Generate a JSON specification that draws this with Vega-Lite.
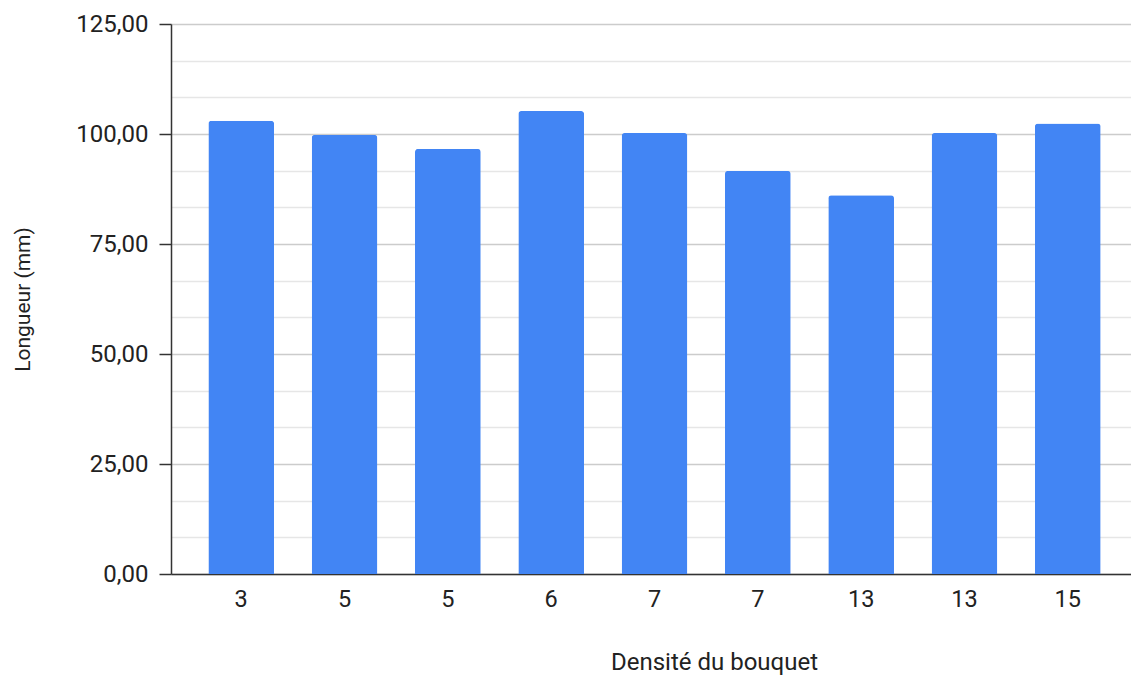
{
  "$schema": "https://vega.github.io/schema/vega-lite/v6.json",
  "autosize": "none",
  "width": 960,
  "height": 550,
  "padding": {"left": 171, "top": 24, "right": 0, "bottom": 102},
  "background": "white",
  "config": {
    "view": {"stroke": null},
    "font": "Roboto",
    "axis": {"labelFont": "Roboto", "titleFont": "Roboto", "labelColor": "#222222", "titleColor": "#222222", "titleFontWeight": "normal"}
  },
  "data": {
    "values": [
      {"densite": "3", "longueur": 103.0},
      {"densite": "5", "longueur": 99.8},
      {"densite": "5\u200b", "longueur": 96.6},
      {"densite": "6", "longueur": 105.2},
      {"densite": "7", "longueur": 100.2},
      {"densite": "7\u200b", "longueur": 91.6},
      {"densite": "13", "longueur": 86.1},
      {"densite": "13\u200b", "longueur": 100.2},
      {"densite": "15", "longueur": 102.4}
    ]
  },
  "mark": {"type": "bar", "color": "#4285F4", "cornerRadiusTopLeft": 3, "cornerRadiusTopRight": 3},
  "encoding": {
    "x": {
      "field": "densite",
      "type": "nominal",
      "sort": null,
      "scale": {"paddingInner": 0.364, "paddingOuter": 0.3616, "range": [0, 967]},
      "axis": {
        "title": "Densité du bouquet",
        "labelAngle": 0,
        "labelFontSize": 23.5,
        "titleFontSize": 24,
        "ticks": false,
        "labelPadding": 13,
        "domainColor": "#333333",
        "domainWidth": 1.5,
        "titleX": 543,
        "titleY": 88,
        "titleBaseline": "middle",
        "titleAnchor": null,
        "titleAlign": "center"
      }
    },
    "y": {
      "field": "longueur",
      "type": "quantitative",
      "scale": {"domain": [0, 125], "nice": false},
      "axis": {
        "title": "Longueur (mm)",
        "values": [0, 8.333333, 16.666667, 25, 33.333333, 41.666667, 50, 58.333333, 66.666667, 75, 83.333333, 91.666667, 100, 108.333333, 116.666667, 125],
        "labelExpr": "abs(datum.value - round(datum.value / 25) * 25) < 0.01 ? replace(format(datum.value, '.2f'), '.', ',') : ''",
        "labelFontSize": 24,
        "titleFontSize": 21,
        "labelPadding": 11,
        "tickSize": 12,
        "tickColor": "#333333",
        "tickWidth": 1.5,
        "tickOpacity": {"condition": {"test": "abs(datum.value - round(datum.value / 25) * 25) < 0.01", "value": 1}, "value": 0},
        "domainColor": "#333333",
        "domainWidth": 1.5,
        "grid": true,
        "gridColor": {"condition": {"test": "abs(datum.value - round(datum.value / 25) * 25) < 0.01", "value": "#cccccc"}, "value": "#e6e6e6"},
        "gridWidth": 1.5,
        "titleX": -148,
        "titleY": 275,
        "titleAngle": -90,
        "titleBaseline": "middle",
        "titleAlign": "center",
        "titleAnchor": null
      }
    }
  }
}
